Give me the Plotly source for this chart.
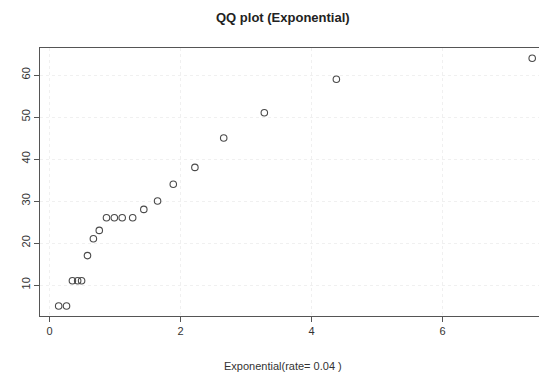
import plotly.graph_objects as go

# Theoretical exponential quantiles (x) and sample values (y)
theoretical = [0.14, 0.26, 0.35, 0.43, 0.49, 0.58, 0.67, 0.76, 0.87, 0.99,
               1.11, 1.27, 1.44, 1.65, 1.89, 2.22, 2.66, 3.28, 4.38, 7.37]
sample = [5, 5, 11, 11, 11, 17, 21, 23, 26, 26,
          26, 26, 28, 30, 34, 38, 45, 51, 59, 64]
x_ticks = [0, 2, 4, 6]
y_ticks = [10, 20, 30, 40, 50, 60]

title_text = "QQ plot (Exponential)"
x_title = "Exponential(rate= 0.04 )"

fig = go.Figure()
fig.add_trace(go.Scatter(
    x=theoretical, y=sample, mode="markers",
    marker=dict(symbol="circle-open", size=6.5, color="#4a4a4a", line=dict(width=1.1)),
    hoverinfo="x+y", showlegend=False,
))

font = "Liberation Sans, Arial, Helvetica, sans-serif"
# page body has an 8px margin, so the figure is 8px smaller than the window
fig.update_layout(
    width=539, height=369,
    margin=dict(l=32, r=0, t=40, b=61),
    paper_bgcolor="white", plot_bgcolor="white",
    font=dict(family=font, size=11, color="#333333"),
    showlegend=False,
    xaxis=dict(
        range=[-0.145, 7.596], tickvals=x_ticks, ticktext=[str(v) for v in x_ticks],
        showline=True, linecolor="#555555", linewidth=1.2, mirror=True,
        ticks="outside", ticklen=5, tickcolor="#555555",
        showgrid=True, gridcolor="#f0f0f0", griddash="dot", gridwidth=1,
        zeroline=False, tickfont=dict(size=11, color="#333333"),
    ),
    yaxis=dict(
        range=[2.62, 66.43], tickvals=y_ticks, ticktext=[str(v) for v in y_ticks],
        showline=True, linecolor="#555555", linewidth=1.2, mirror=False,
        ticks="outside", ticklen=5, tickcolor="#555555", tickangle=-90,
        showgrid=True, gridcolor="#f0f0f0", griddash="dot", gridwidth=1,
        zeroline=False, tickfont=dict(size=11, color="#333333"),
    ),
    annotations=[
        dict(text="<b>" + title_text + "</b>", xref="paper", yref="paper",
             x=0.479, y=1.0, yshift=31, xanchor="center", yanchor="middle",
             showarrow=False, font=dict(size=13, color="#222222", family=font)),
        dict(text=x_title, xref="paper", yref="paper",
             x=0.479, y=0.0, yshift=-50, xanchor="center", yanchor="middle",
             showarrow=False, font=dict(size=11, color="#333333", family=font)),
    ],
)

fig.write_html("out.html")
